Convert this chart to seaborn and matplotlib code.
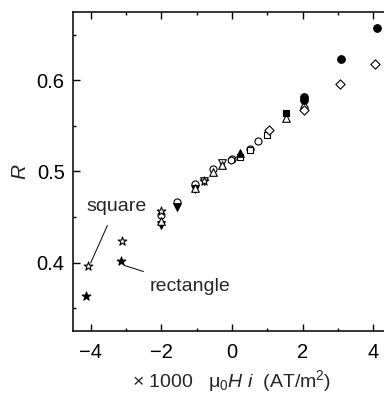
import matplotlib
matplotlib.use("Agg")
import matplotlib.pyplot as plt
import seaborn as sns
import pandas as pd

# Field values (x1000 mu0 H i, AT/m^2) and measured ratio R for each sample
star_sq_x = [-4.07, -3.10, -2.00, -0.80]
star_sq_y = [0.396, 0.424, 0.457, 0.490]
star_re_x = [-4.12, -3.13]
star_re_y = [0.363, 0.402]

circ_open_x = [-2.00, -1.56, -1.05, -0.55, 0.00, 0.50, 0.75]
circ_open_y = [0.452, 0.467, 0.486, 0.503, 0.514, 0.525, 0.533]
tri_down_fill_x = [-2.00, -1.56, -1.05]
tri_down_fill_y = [0.441, 0.461, 0.481]
tri_down_open_x = [-0.80, -0.29]
tri_down_open_y = [0.489, 0.509]
tri_up_open_x = [-2.00, -1.05, -0.55, -0.29, 1.54, 2.03]
tri_up_open_y = [0.446, 0.482, 0.499, 0.507, 0.559, 0.574]
sq_open_x = [0.24, 0.50, 1.00]
sq_open_y = [0.516, 0.524, 0.540]
tri_up_fill_x = [0.24]
tri_up_fill_y = [0.520]
sq_fill_x = [1.54]
sq_fill_y = [0.564]
hex_open_x = [-0.02]
hex_open_y = [0.513]
circ_fill_x = [2.03, 2.03, 3.10, 4.10]
circ_fill_y = [0.582, 0.578, 0.623, 0.657]
diam_open_x = [1.05, 2.03, 3.07, 4.05]
diam_open_y = [0.546, 0.567, 0.596, 0.618]

x_ticks = [-4, -2, 0, 2, 4]
y_ticks = [0.4, 0.5, 0.6]

sns.set_style("ticks")
plt.rcParams["font.family"] = ["Liberation Sans", "DejaVu Sans"]
plt.rcParams["mathtext.fontset"] = "custom"
plt.rcParams["mathtext.rm"] = "Liberation Sans"
plt.rcParams["mathtext.it"] = "Liberation Sans:italic"

fig = plt.figure(figsize=(3.84, 3.94), dpi=100)
ax = fig.add_axes([0.190, 0.160, 0.828, 0.8096])

series = [
    (circ_open_x, circ_open_y, "o", "white", 26),
    (tri_down_fill_x, tri_down_fill_y, "v", "black", 30),
    (tri_down_open_x, tri_down_open_y, "v", "white", 30),
    (tri_up_open_x, tri_up_open_y, "^", "white", 30),
    (sq_open_x, sq_open_y, "s", "white", 24),
    (tri_up_fill_x, tri_up_fill_y, "^", "black", 30),
    (sq_fill_x, sq_fill_y, "s", "black", 24),
    (hex_open_x, hex_open_y, "h", "white", 28),
    (circ_fill_x, circ_fill_y, "o", "black", 30),
    (diam_open_x, diam_open_y, "D", "white", 22),
    (star_sq_x, star_sq_y, "*", "white", 42),
    (star_re_x, star_re_y, "*", "black", 42),
]
for xs, ys, mk, fc, s in series:
    df = pd.DataFrame({"x": xs, "y": ys})
    sns.scatterplot(data=df, x="x", y="y", marker=mk, s=s, color=fc,
                    edgecolor="black", linewidth=0.8, ax=ax, zorder=3)

ax.set_xlim(-4.5, 4.5)
ax.set_ylim(0.325, 0.675)
ax.set_xticks(x_ticks)
ax.set_xticklabels(["\u22124", "\u22122", "0", "2", "4"])
ax.set_xticks([-3, -1, 1, 3], minor=True)
ax.set_yticks(y_ticks)
ax.set_yticklabels(["0.4", "0.5", "0.6"])
ax.set_yticks([0.35, 0.45, 0.55, 0.65], minor=True)
ax.tick_params(which="both", direction="in", top=True, right=True,
               width=1.0, colors="black", labelsize=14.5)
ax.tick_params(axis="x", which="major", pad=9)
ax.tick_params(axis="y", which="major", pad=6)
ax.tick_params(which="major", length=5)
ax.tick_params(which="minor", length=2.5)
for sp in ax.spines.values():
    sp.set_visible(True)
    sp.set_linewidth(1.1)
    sp.set_color("black")

ax.set_ylabel("$\\it{R}$", fontsize=15, labelpad=5)
ax.set_xlabel("\u00d7 1000   $\\mathregular{\\mu_0}$$\\it{H\\ i}$  (AT/m$^{\\mathregular{2}}$)",
              fontsize=14, labelpad=4)

ax.annotate("square", xy=(-4.0, 0.3995), xytext=(-3.28, 0.462),
            fontsize=14, ha="center", va="center",
            arrowprops=dict(arrowstyle="-", color="black", lw=0.7,
                            shrinkA=6, shrinkB=0))
ax.annotate("rectangle", xy=(-3.05, 0.397), xytext=(-1.18, 0.3735),
            fontsize=14, ha="center", va="center",
            arrowprops=dict(arrowstyle="-", color="black", lw=0.7,
                            shrinkA=8, shrinkB=0))

fig.savefig("out.png", dpi=100)
